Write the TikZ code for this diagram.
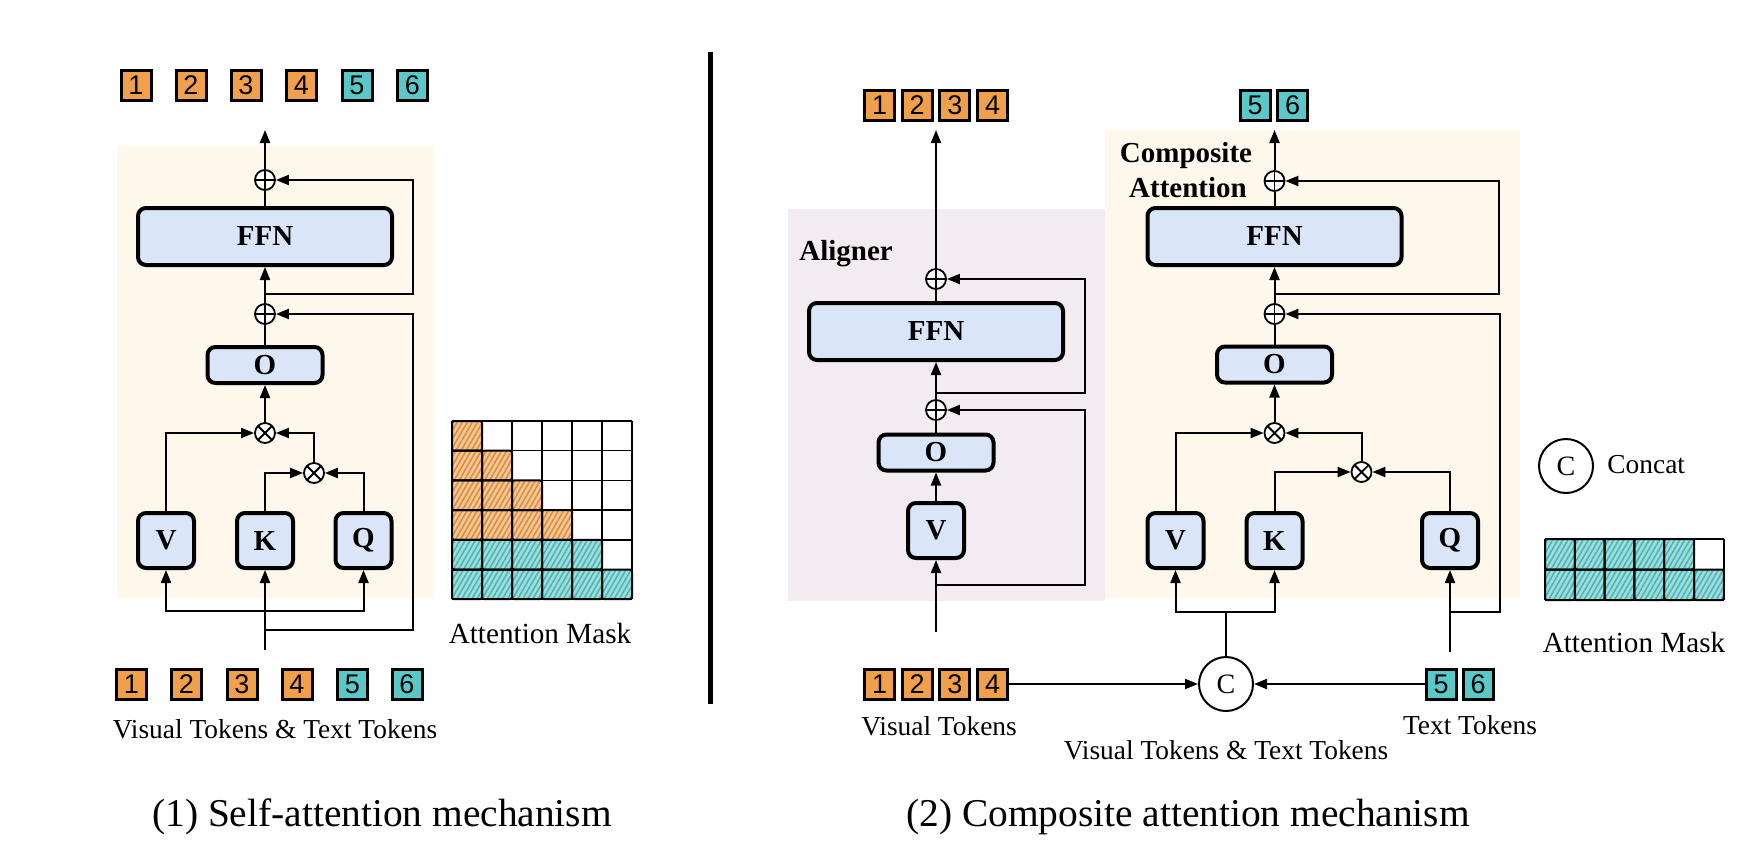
\documentclass[tikz,border=0pt]{standalone}
\usepackage{fontspec}
\setmainfont{Liberation Serif}
\newfontfamily\tokfont{Liberation Sans}
\usetikzlibrary{arrows.meta,patterns.meta}
\definecolor{tokO}{RGB}{240,160,75}
\definecolor{tokT}{RGB}{90,200,200}
\definecolor{boxB}{RGB}{218,230,248}
\definecolor{creamBG}{RGB}{253,247,236}
\definecolor{lavBG}{RGB}{242,236,240}
\newcommand\flab{\fontsize{13.7pt}{16pt}\selectfont}
\newcommand\fmask{\fontsize{14.6pt}{17pt}\selectfont}
\newcommand\fcapt{\fontsize{19.7pt}{23pt}\selectfont}
\newcommand\ftitle{\bfseries\fontsize{14.5pt}{17.5pt}\selectfont}
\begin{document}
\begin{tikzpicture}[x=0.5pt,y=-0.5pt,
  blk/.style={draw, line width=2pt, rounded corners=4pt, fill=boxB, inner sep=0pt,
    font=\bfseries\fontsize{14.5pt}{17pt}\selectfont},
  ffnbox/.style={blk, minimum width=127pt, minimum height=28.5pt},
  obox/.style={blk, minimum width=57.5pt, minimum height=18pt},
  sqbox/.style={blk, minimum width=28pt, minimum height=27.5pt},
  tok/.style={draw, line width=1.5pt, minimum size=15pt, inner sep=0pt,
    font=\tokfont\fontsize{13.5pt}{16pt}\selectfont},
  tokA/.style={tok, fill=tokO},
  tokB/.style={tok, fill=tokT},
  opl/.style={circle, draw, line width=0.9pt, fill=white, minimum size=10pt, inner sep=0pt,
    path picture={\draw[line width=0.9pt] (path picture bounding box.north) -- (path picture bounding box.south)
      (path picture bounding box.west) -- (path picture bounding box.east);}},
  otm/.style={circle, draw, line width=0.9pt, fill=white, minimum size=10pt, inner sep=0pt,
    path picture={\draw[line width=0.9pt] (path picture bounding box.north west) -- (path picture bounding box.south east)
      (path picture bounding box.south west) -- (path picture bounding box.north east);}},
  conn/.style={line width=1pt},
  arr/.style={conn, -{Triangle[length=6.5pt,width=5pt]}},
  catnode/.style={circle, draw, line width=1pt, fill=white, minimum size=27pt, inner sep=0pt,
    font=\fontsize{14pt}{16pt}\selectfont},
  lbl/.style={font=\flab, inner sep=0pt},
  hatchO/.style={pattern={Lines[angle=60,distance=2.2pt,line width=0.8pt]}, pattern color=tokO!90!black},
  hatchT/.style={pattern={Lines[angle=60,distance=2.2pt,line width=0.8pt]}, pattern color=tokT!90!black}
]
\useasboundingbox (0,0) rectangle (1760,862);

% ---------- backgrounds ----------
\fill[creamBG] (117,146) rectangle (433,598);
\fill[lavBG] (788,209) rectangle (1105,601);
\fill[creamBG] (1105,130) rectangle (1520,598);

% divider
\draw[line width=2.5pt] (710,52) -- (710,704);

% =================== LEFT: self-attention ===================
\node[tokA] (lo1) at (136,85) {1};
\node[tokA] (lo2) at (191,85) {2};
\node[tokA] (lo3) at (246,85) {3};
\node[tokA] (lo4) at (301.5,85) {4};
\node[tokB] (lo5) at (357,85) {5};
\node[tokB] (lo6) at (412.5,85) {6};

\node[opl] (pa1) at (265,180) {};
\node[ffnbox] (ffn1) at (265,236.5) {FFN};
\node[opl] (pb1) at (265,314) {};
\node[obox] (o1) at (265,365) {O};
\node[otm] (xa1) at (265,433) {};
\node[otm] (xb1) at (314,473) {};
\node[sqbox] (v1) at (166,540.5) {V};
\node[sqbox] (k1) at (265,540.5) {K};
\node[sqbox] (q1) at (363.5,540.5) {Q};

\node[tokA] (li1) at (131.5,684) {1};
\node[tokA] (li2) at (186.5,684) {2};
\node[tokA] (li3) at (242,684) {3};
\node[tokA] (li4) at (297,684) {4};
\node[tokB] (li5) at (352.5,684) {5};
\node[tokB] (li6) at (407,684) {6};
\node[lbl, anchor=base] (ltxt) at (275,738) {Visual Tokens \& Text Tokens};

\coordinate (out1) at (265,130);
\coordinate (r1) at (265,294);
\coordinate (r2) at (265,630);
\coordinate (bus1) at (265,611);
\coordinate (in1) at (265,650);

\draw[arr] (pa1.north) -- (out1);
\draw[conn] (ffn1.north) -- (pa1.south);
\draw[arr] (pb1.north) -- (ffn1.south);
\draw[conn] (o1.north) -- (pb1.south);
\draw[arr] (xa1.north) -- (o1.south);
\draw[arr] (v1.north) |- (xa1.west);
\draw[arr] (xb1.north) |- (xa1.east);
\draw[arr] (k1.north) |- (xb1.west);
\draw[arr] (q1.north) |- (xb1.east);
\draw[arr] (r1) -- ++(148,0) |- (pa1.east);
\draw[arr] (r2) -- ++(148,0) |- (pb1.east);
\draw[arr] (in1) -- (k1.south);
\draw[arr] (bus1) -| (v1.south);
\draw[arr] (bus1) -| (q1.south);

% attention mask (left)
\foreach \r/\cmax/\cl in {0/0/O,1/1/O,2/2/O,3/3/O,4/4/T,5/5/T}{
  \foreach \c in {0,...,\cmax}{
    \fill[tok\cl!60!white] ({452+30*\c},{421+29.7*\r}) rectangle ++(30,29.7);
    \fill[hatch\cl] ({452+30*\c},{421+29.7*\r}) rectangle ++(30,29.7);
  }
}
\foreach \i in {0,...,6}{
  \draw[line width=0.7pt] ({452+30*\i},421) -- ({452+30*\i},599.2);
  \draw[line width=0.7pt] (452,{421+29.7*\i}) -- (632,{421+29.7*\i});
}
\foreach \r/\cmax in {0/0,1/1,2/2,3/3,4/4,5/5}{
  \foreach \c in {0,...,\cmax}{
    \draw[line width=1pt, rounded corners=1pt] ({452+30*\c},{421+29.7*\r}) rectangle ++(30,29.7);
  }
}
\node[font=\fmask, inner sep=0pt, anchor=base] (lmask) at (540,643) {Attention Mask};

\node[font=\fcapt, inner sep=0pt, anchor=base] (cap1) at (382,826) {(1) Self-attention mechanism};

% =================== RIGHT: composite attention ===================
% Aligner
\node[tokA] (ao1) at (879.5,105) {1};
\node[tokA] (ao2) at (917.2,105) {2};
\node[tokA] (ao3) at (954.8,105) {3};
\node[tokA] (ao4) at (992.5,105) {4};
\node[font=\ftitle, inner sep=0pt, anchor=base west] (alg) at (799,260) {Aligner};

\node[opl] (pa2) at (936,279) {};
\node[ffnbox] (ffn2) at (936,331.5) {FFN};
\node[opl] (pb2) at (936,410) {};
\node[obox] (o2) at (936,452.5) {O};
\node[sqbox] (v2) at (936,530.5) {V};

\coordinate (out2) at (936,130);
\coordinate (r3) at (936,393);
\coordinate (r4) at (936,585);
\coordinate (in2) at (936,632);

\draw[arr] (pa2.north) -- (out2);
\draw[conn] (ffn2.north) -- (pa2.south);
\draw[arr] (pb2.north) -- (ffn2.south);
\draw[conn] (o2.north) -- (pb2.south);
\draw[arr] (v2.north) -- (o2.south);
\draw[arr] (r3) -- ++(149,0) |- (pa2.east);
\draw[arr] (r4) -- ++(149,0) |- (pb2.east);
\draw[arr] (in2) -- (v2.south);

% Composite attention
\node[tokB] (co5) at (1255,105) {5};
\node[tokB] (co6) at (1292.5,105) {6};
\node[font=\ftitle, inner sep=0pt, anchor=base] (cmp1) at (1186,162) {Composite};
\node[font=\ftitle, inner sep=0pt, anchor=base] (cmp2) at (1188,197) {Attention};

\node[opl] (pa3) at (1274.5,181) {};
\node[ffnbox] (ffn3) at (1274.5,236.5) {FFN};
\node[opl] (pb3) at (1274.5,314) {};
\node[obox] (o3) at (1274.5,364.5) {O};
\node[otm] (xa3) at (1274.5,433) {};
\node[otm] (xb3) at (1361.5,472) {};
\node[sqbox] (v3) at (1175.5,540.5) {V};
\node[sqbox] (k3) at (1274.5,540.5) {K};
\node[sqbox] (q3) at (1450,540.5) {Q};

\coordinate (out3) at (1274.5,130);
\coordinate (r5) at (1274.5,294);
\coordinate (r6) at (1450,612);
\coordinate (in3) at (1450,652);
\coordinate (bus3) at (1226,612);

\draw[arr] (pa3.north) -- (out3);
\draw[conn] (ffn3.north) -- (pa3.south);
\draw[arr] (pb3.north) -- (ffn3.south);
\draw[conn] (o3.north) -- (pb3.south);
\draw[arr] (xa3.north) -- (o3.south);
\draw[arr] (v3.north) |- (xa3.west);
\draw[arr] (xb3.north) |- (xa3.east);
\draw[arr] (k3.north) |- (xb3.west);
\draw[arr] (q3.north) |- (xb3.east);
\draw[arr] (r5) -- ++(224.5,0) |- (pa3.east);
\draw[arr] (r6) -- ++(49.5,0) |- (pb3.east);
\draw[arr] (in3) -- (q3.south);

% inputs
\node[tokA] (vi1) at (879.5,684) {1};
\node[tokA] (vi2) at (917.2,684) {2};
\node[tokA] (vi3) at (954.8,684) {3};
\node[tokA] (vi4) at (992.5,684) {4};
\node[tokB] (ti5) at (1441,684) {5};
\node[tokB] (ti6) at (1478,684) {6};
\node[catnode] (cat) at (1226,684) {C};

\draw[arr] (vi4.east) -- (cat.west);
\draw[arr] (ti5.west) -- (cat.east);
\draw[conn] (cat.north) -- (bus3);
\draw[arr] (bus3) -| (v3.south);
\draw[arr] (bus3) -| (k3.south);

\node[lbl, anchor=base] (vtxt) at (939,735) {Visual Tokens};
\node[lbl, anchor=base] (vttxt) at (1226,759) {Visual Tokens \& Text Tokens};
\node[lbl, anchor=base] (ttxt) at (1470,734) {Text Tokens};

% legend
\node[catnode] (legc) at (1566,466) {C};
\node[lbl, anchor=base west] (legt) at (1607,473) {Concat};

% attention mask (right)
\foreach \r/\cmax in {0/4,1/5}{
  \foreach \c in {0,...,\cmax}{
    \fill[tokT!60!white] ({1545+29.8*\c},{539+30.5*\r}) rectangle ++(29.8,30.5);
    \fill[hatchT] ({1545+29.8*\c},{539+30.5*\r}) rectangle ++(29.8,30.5);
  }
}
\foreach \i in {0,...,6}{
  \draw[line width=0.7pt] ({1545+29.8*\i},539) -- ({1545+29.8*\i},600);
}
\foreach \i in {0,...,2}{
  \draw[line width=0.7pt] (1545,{539+30.5*\i}) -- (1723.8,{539+30.5*\i});
}
\foreach \r/\cmax in {0/4,1/5}{
  \foreach \c in {0,...,\cmax}{
    \draw[line width=1pt, rounded corners=1pt] ({1545+29.8*\c},{539+30.5*\r}) rectangle ++(29.8,30.5);
  }
}
\node[font=\fmask, inner sep=0pt, anchor=base] (rmask) at (1634,652) {Attention Mask};

\node[font=\fcapt, inner sep=0pt, anchor=base] (cap2) at (1188,826) {(2) Composite attention mechanism};
\end{tikzpicture}
\end{document}
